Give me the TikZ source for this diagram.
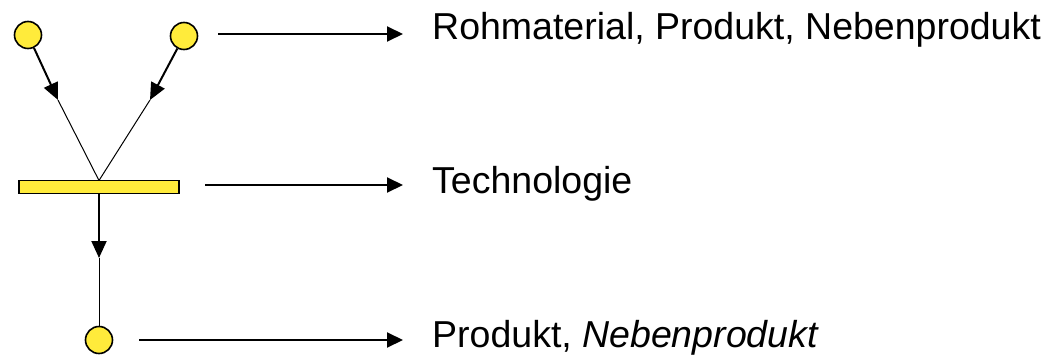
\documentclass[tikz,border=0pt]{standalone}
\usepackage{fontspec}
\setmainfont{Liberation Sans}
\usetikzlibrary{arrows.meta}
\definecolor{placefill}{RGB}{255,235,59}
\begin{document}
\begin{tikzpicture}[x=1pt,y=-1pt,
  place/.style={circle,draw=black,line width=1.6pt,fill=placefill,inner sep=0pt,minimum size=27pt},
  trans/.style={rectangle,draw=black,line width=1.6pt,fill=placefill,inner sep=0pt,minimum width=160pt,minimum height=13pt},
  flow/.style={line width=2pt,-{Triangle[length=17pt,width=15pt]}},
  thin/.style={line width=1pt},
  pointer/.style={line width=2pt,-{Triangle[length=16pt,width=15pt]}},
  lbl/.style={anchor=base west,inner sep=0pt,font=\fontsize{37.5pt}{44pt}\selectfont}]
\useasboundingbox (0,0) rectangle (1044,356);
% places and transition
\node[place] (p1) at (28,35) {};
\node[place] (p2) at (184,36) {};
\node[trans] (t) at (99,187) {};
\node[place] (p3) at (99,340) {};
% arc tips
\coordinate (m1) at (58,100);
\coordinate (m2) at (150,100);
\coordinate (m3) at (99,258);
\coordinate (tin) at (99,180.5);
% arcs
\draw[flow] (p1) -- (m1);
\draw[thin] (m1) -- (tin);
\draw[flow] (p2) -- (m2);
\draw[thin] (m2) -- (tin);
\draw[flow] (t.south) -- (m3);
\draw[thin] (m3) -- (p3);
% labels
\node[lbl] (l1) at (432,39) {Rohmaterial, Produkt, Nebenprodukt};
\node[lbl] (l2) at (432,193) {Technologie};
\node[lbl] (l3) at (432,347) {Produkt, \textit{Nebenprodukt}};
% pointers from the net to the labels
\coordinate (a1) at (218,34);
\coordinate (b1) at (403,34);
\coordinate (a2) at (205,185);
\coordinate (b2) at (403,185);
\coordinate (a3) at (139,340);
\coordinate (b3) at (403,340);
\draw[pointer] (a1) -- (b1);
\draw[pointer] (a2) -- (b2);
\draw[pointer] (a3) -- (b3);
\end{tikzpicture}
\end{document}
